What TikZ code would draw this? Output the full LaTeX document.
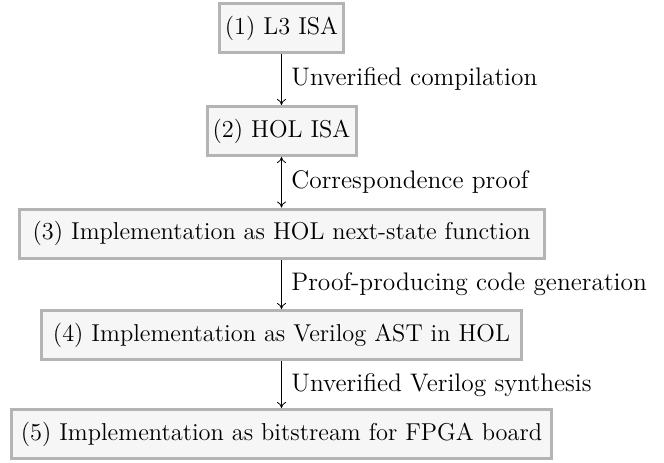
\documentclass[tikz,border=0pt]{standalone}
\usetikzlibrary{arrows.meta}
\definecolor{boxline}{RGB}{180,180,180}
\definecolor{boxfill}{RGB}{246,246,246}
\tikzset{
  stage/.style={draw=boxline, fill=boxfill, line width=1.5pt, inner sep=0pt,
    minimum height=24.5pt, font=\fontsize{12.2}{14}\selectfont},
  flow/.style={-{To[length=3pt,width=4.5pt]}, line width=0.4pt},
  biflow/.style={{To[length=3pt,width=4.5pt]}-{To[length=3pt,width=4.5pt]}, line width=0.4pt},
  steplabel/.style={anchor=west, inner sep=0pt, font=\fontsize{12.7}{14}\selectfont}
}
\begin{document}
\begin{tikzpicture}[x=0.5pt,y=-0.5pt]
  \useasboundingbox (0,0) rectangle (664,462);
  \node[stage, minimum width=62pt] (s1) at (281.5,28) {(1) L3 ISA};
  \node[stage, minimum width=74.5pt] (s2) at (281.5,131) {(2) HOL ISA};
  \node[stage, minimum width=262.5pt] (s3) at (281.5,233.5) {(3) Implementation as HOL next-state function};
  \node[stage, minimum width=240pt] (s4) at (281.5,335) {(4) Implementation as Verilog AST in HOL};
  \node[stage, minimum width=270pt] (s5) at (281.5,434) {(5) Implementation as bitstream for FPGA board};

  \draw[flow] (s1.south) -- (s2.north);
  \draw[biflow] (s2.south) -- (s3.north);
  \draw[flow] (s3.south) -- (s4.north);
  \draw[flow] (s4.south) -- (s5.north);

  \node[steplabel] (l1) at (291,79) {Unverified compilation};
  \node[steplabel] (l2) at (291,182.5) {Correspondence proof};
  \node[steplabel] (l3) at (291,284) {Proof-producing code generation};
  \node[steplabel] (l4) at (291,385) {Unverified Verilog synthesis};
\end{tikzpicture}
\end{document}
